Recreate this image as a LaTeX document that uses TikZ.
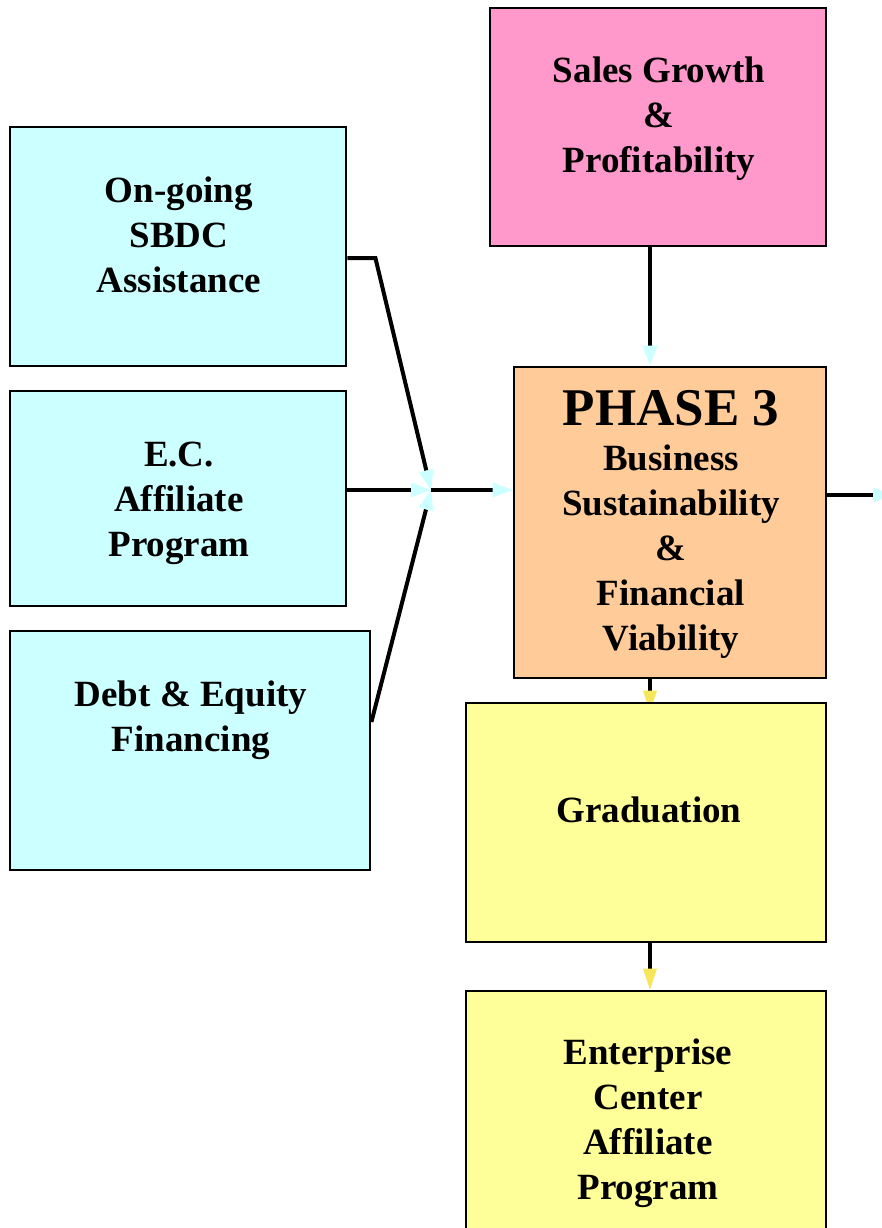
\documentclass[tikz,border=0pt]{standalone}
\usepackage{fontspec}
\setmainfont{Liberation Serif}
\usetikzlibrary{positioning,arrows.meta,backgrounds}

\definecolor{boxcyan}{RGB}{204,255,255}
\definecolor{boxpink}{RGB}{255,153,204}
\definecolor{boxorange}{RGB}{255,204,153}
\definecolor{boxyellow}{RGB}{255,255,153}
\definecolor{headyellow}{RGB}{245,230,90}

\tikzset{
  box/.style={draw,line width=2.8pt,minimum width=#1},
  label text/.style={align=center,font=\bfseries\fontsize{37}{45}\selectfont},
  cyanflow/.style={line width=4pt,-{Triangle[length=20pt,width=15pt,line width=0pt,color=boxcyan]}},
  yellowflow/.style={line width=4pt,-{Triangle[length=21pt,width=14pt,line width=0pt,color=headyellow]}}
}

\begin{document}
\begin{tikzpicture}[x=1pt,y=-1pt]
  \useasboundingbox (0,0) rectangle (882,1228);

  \node[box=336pt,fill=boxpink,minimum height=238pt]   (sales) at (658,127)    {};
  \node[box=336pt,fill=boxcyan,minimum height=239pt]   (sbdc)  at (178,246.5)  {};
  \node[box=336pt,fill=boxcyan,minimum height=215pt]   (ecap)  at (178,498.5)  {};
  \node[box=360pt,fill=boxcyan,minimum height=239pt]   (debt)  at (190,750.5)  {};
  \node[box=312pt,fill=boxorange,minimum height=311pt] (phase) at (670,522.5)  {};
  \node[box=360pt,fill=boxyellow,minimum height=239pt] (grad)  at (646,822.5)  {};
  \node[box=360pt,fill=boxyellow,minimum height=244pt] (ent)   at (646,1113)   {};

  \node[label text] (sales_t) at (659,119) {Sales Growth\\\&\\Profitability};
  \node[label text] (sbdc_t)  at (179,235) {On-going\\SBDC\\Assistance};
  \node[label text] (ecap_t)  at (179,503) {E.C.\\Affiliate\\Program};
  \node[label text] (debt_t)  at (191,720) {Debt \& Equity\\Financing};
  \node[label text] (phase_t) at (671,524) {{\fontsize{53}{53}\selectfont PHASE 3}\\Business\\Sustainability\\\&\\Financial\\Viability};
  \node[label text] (grad_t)  at (649,810) {Graduation};
  \node[label text] (ent_t)   at (648,1123) {Enterprise\\Center\\Affiliate\\Program};

  \coordinate (hub)  at (431,490);
  \coordinate (exit) at (893,495);

  \begin{pgfonlayer}{background}
    \draw[cyanflow] ([yshift=-11.5pt]sbdc.east) -- ++(28,0) -- (hub);
    \draw[cyanflow] ([yshift=8.5pt]ecap.east) -- (hub);
    \draw[cyanflow] ([yshift=28.5pt]debt.east) -- (hub);
    \draw[cyanflow] (hub) -- (hub -| phase.west);
    \draw[cyanflow] ([xshift=-8pt]sales.south) -- ([xshift=-20pt]phase.north);
    \draw[cyanflow] ([yshift=27.5pt]phase.east) -- (exit);
    \draw[yellowflow] ([xshift=-20pt]phase.south) -- ([xshift=4pt,yshift=-10pt]grad.north);
    \draw[yellowflow] ([xshift=4pt]grad.south) -- ([xshift=4pt]ent.north);
  \end{pgfonlayer}
\end{tikzpicture}
\end{document}
